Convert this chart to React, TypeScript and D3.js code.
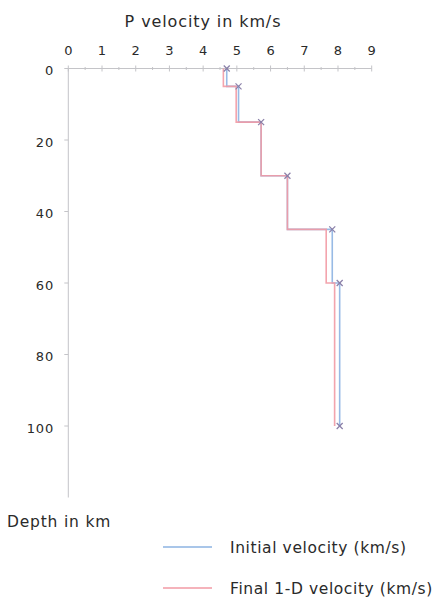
import React from "react";
import * as d3 from "d3";

const depths = [0, 5, 15, 30, 45, 60, 100];
const initialVelocity = [4.7, 5.05, 5.72, 6.5, 7.83, 8.05, 8.05];
const finalVelocity = [4.6, 4.98, 5.72, 6.5, 7.65, 7.9, 7.9];
const xTicks = [0, 1, 2, 3, 4, 5, 6, 7, 8, 9];
const yTicks = [0, 20, 40, 60, 80, 100];
const seriesNames = ["Initial velocity (km/s)", "Final 1-D velocity (km/s)"];
const seriesColors = ["#8db3e2", "#f29aa4"];

export default function App() {
  const W = 442, H = 599;
  const x = d3.scaleLinear().domain([0, 9]).range([68.3, 371.7]);
  const y = d3.scaleLinear().domain([0, 120]).range([68.5, 497.5]);
  const font = "'DejaVu Sans', sans-serif";
  const axisColor = "#c4c4c8";
  const textColor = "#2a2a2a";

  const line = d3
    .line<number>()
    .x((v) => x(v))
    .y((_, i) => y(depths[i]))
    .curve(d3.curveStepBefore);

  const series = [initialVelocity, finalVelocity];
  const minorX = d3.range(0.5, 9, 1);

  return (
    <svg width={W} height={H} style={{ position: "absolute", left: 0, top: 0, background: "#fff" }}>
      <text x={203} y={27} textAnchor="middle" fontFamily={font} fontSize={16} letterSpacing={0.9} fill={textColor}>
        P velocity in km/s
      </text>
      {/* x axis */}
      <line x1={x(0)} x2={x(9)} y1={y(0)} y2={y(0)} stroke={axisColor} strokeWidth={1} />
      {xTicks.map((t) => (
        <g key={"xt" + t}>
          <line x1={x(t)} x2={x(t)} y1={y(0) - 3} y2={y(0) + 3} stroke={axisColor} />
          <text x={x(t)} y={y(0) - 14} textAnchor="middle" fontFamily={font} fontSize={13} fill={textColor}>
            {t}
          </text>
        </g>
      ))}
      {minorX.map((t) => (
        <line key={"mx" + t} x1={x(t)} x2={x(t)} y1={y(0) - 1.5} y2={y(0) + 1.5} stroke={axisColor} />
      ))}
      {/* y axis */}
      <line x1={x(0)} x2={x(0)} y1={y(0)} y2={y(120)} stroke={axisColor} strokeWidth={1} />
      {yTicks.map((t) => (
        <g key={"yt" + t}>
          <line x1={x(0) - 4} x2={x(0)} y1={y(t)} y2={y(t)} stroke={axisColor} />
          <text x={54} y={y(t) + 2} dy="0.36em" textAnchor="end" fontFamily={font} fontSize={13} letterSpacing={0.8} fill={textColor}>
            {t}
          </text>
        </g>
      ))}
      {/* series */}
      {series.map((s, si) => (
        <path key={"s" + si} d={line(s) || ""} fill="none" stroke={seriesColors[si]} strokeWidth={1.6} opacity={0.9} />
      ))}
      {initialVelocity.map((v, i) => (
        <g key={"m" + i} transform={`translate(${x(v)},${y(depths[i])})`} stroke="#8a7fa8" strokeWidth={1.2}>
          <line x1={-3} y1={-3} x2={3} y2={3} />
          <line x1={-3} y1={3} x2={3} y2={-3} />
        </g>
      ))}
      <text x={7} y={527} fontFamily={font} fontSize={15.5} letterSpacing={0.8} fill={textColor}>
        Depth in km
      </text>
      {seriesNames.map((n, i) => (
        <g key={"lg" + i} transform={`translate(0,${547 + i * 41})`}>
          <line x1={163} x2={212} y1={0} y2={0} stroke={seriesColors[i]} strokeWidth={1.4} />
          <text x={230} y={0} dy="0.36em" fontFamily={font} fontSize={15.5} letterSpacing={0.6} fill={textColor}>
            {n}
          </text>
        </g>
      ))}
    </svg>
  );
}
